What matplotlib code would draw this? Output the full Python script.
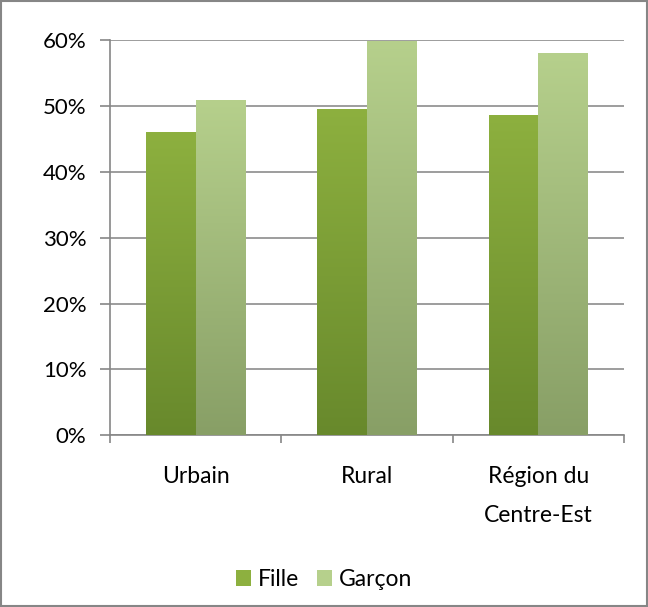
import numpy as np
import matplotlib.pyplot as plt
from matplotlib.colors import LinearSegmentedColormap
from matplotlib.patches import Rectangle
from matplotlib.ticker import FuncFormatter, MultipleLocator

plt.rcParams['font.family'] = ['Lato', 'DejaVu Sans']

categories = ["Urbain", "Rural", "Région du\nCentre-Est"]
fille = [0.46, 0.495, 0.486]
garcon = [0.509, 0.599, 0.581]
series = ["Fille", "Garçon"]

# colours: top -> bottom of each bar
fille_cols = ("#8db03f", "#68892c")
garcon_cols = ("#b6d08c", "#889f66")

fig = plt.figure(figsize=(6.48, 6.07), dpi=100)
ax = fig.add_axes([0.17, 0.283, 0.793, 0.651])

x = np.arange(len(categories))
w = 0.29

def grad_bars(xs, vals, cols):
    cmap = LinearSegmentedColormap.from_list("g", [cols[1], cols[0]])
    grad = np.linspace(0, 1, 256).reshape(-1, 1)
    bars = ax.bar(xs, vals, w, color=cols[0], edgecolor="none", zorder=3)
    for b in bars:
        bx, by = b.get_x(), b.get_y()
        bw, bh = b.get_width(), b.get_height()
        b.set_facecolor("none")
        im = ax.imshow(grad, cmap=cmap, aspect="auto", origin="lower",
                       extent=[bx, bx + bw, by, by + bh], zorder=3)
        im.set_clip_path(b)
    return bars

grad_bars(x - w / 2, fille, fille_cols)
grad_bars(x + w / 2, garcon, garcon_cols)

ax.set_xlim(-0.5, len(categories) - 0.5)
ax.set_ylim(0, 0.6)
ax.yaxis.set_major_locator(MultipleLocator(0.1))
ax.yaxis.set_major_formatter(FuncFormatter(lambda v, p: f"{v*100:.0f}%"))
ax.yaxis.grid(True, color="#8c8c8c", linewidth=1.2, zorder=0)
ax.set_axisbelow(True)

ax.set_xticks(x)
ax.set_xticklabels(categories, fontsize=16.5, linespacing=2.1)
ax.set_xticks(np.arange(len(categories) + 1) - 0.5, minor=True)
ax.tick_params(axis="x", which="major", length=0, pad=22)
ax.tick_params(axis="x", which="minor", length=6, color="#868686", width=1.2,
               direction="out")
ax.tick_params(axis="y", length=7, color="#868686", width=1.2, labelsize=16,
               pad=10)
for t in ax.get_xticklabels():
    t.set_verticalalignment("top")

for s in ["top", "right"]:
    ax.spines[s].set_visible(False)
for s in ["left", "bottom"]:
    ax.spines[s].set_color("#868686")
    ax.spines[s].set_linewidth(1.2)

handles = [Rectangle((0, 0), 1, 1, facecolor=fille_cols[0]),
           Rectangle((0, 0), 1, 1, facecolor=garcon_cols[0])]
fig.legend(handles, series, loc="center", bbox_to_anchor=(0.5, 0.045),
           ncol=2, frameon=False, fontsize=16.5, handlelength=0.65,
           handleheight=0.65, handletextpad=0.3, columnspacing=0.8)

border = Rectangle((0.002, 0.002), 0.996, 0.996, transform=fig.transFigure,
                   fill=False, edgecolor="#868686", linewidth=1.5)
fig.patches.append(border)

fig.savefig("out.png", dpi=100)
